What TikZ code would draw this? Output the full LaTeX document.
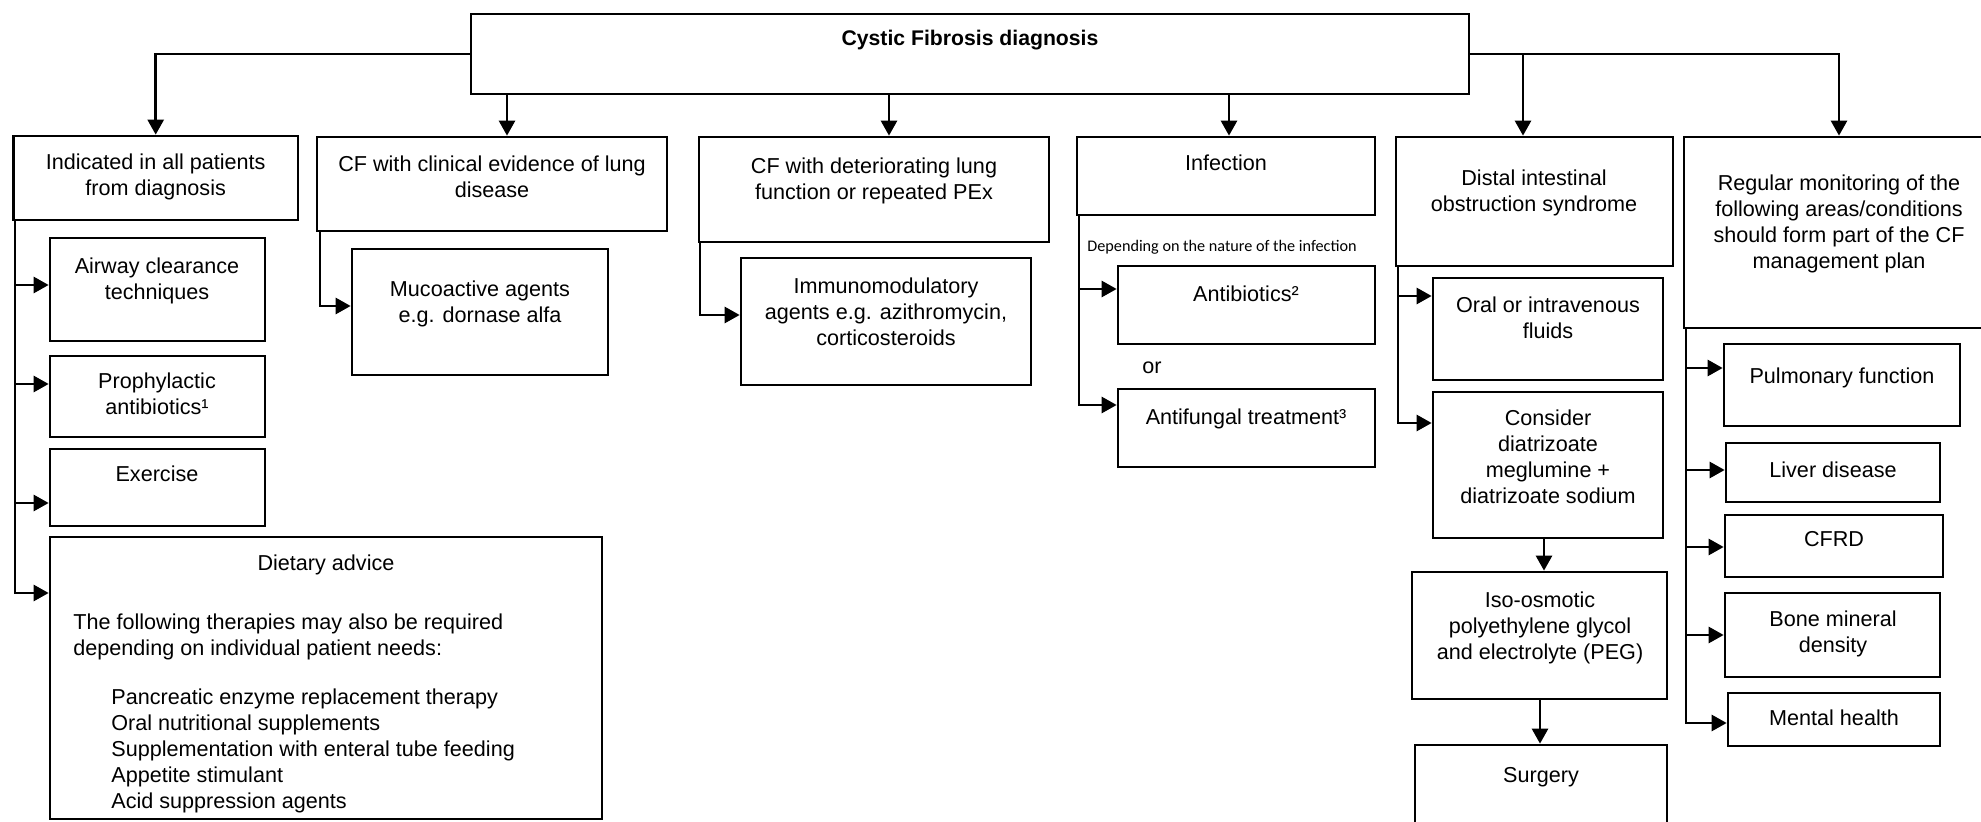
\documentclass[tikz,border=0pt]{standalone}
\usepackage{fontspec}
\setmainfont{Liberation Sans}
\newfontfamily\calfont{Carlito}
\usetikzlibrary{arrows.meta,fit}
\begin{document}
\begin{tikzpicture}[x=0.5pt,y=-0.5pt,
  box/.style={draw, line width=1.35pt, inner sep=0pt},
  lbl/.style={font=\fontsize{10.8}{13}\selectfont, align=center, inner sep=0pt, anchor=north},
  lbll/.style={font=\fontsize{10.8}{13}\selectfont, align=left, inner sep=0pt, anchor=north west},
  conn/.style={line width=1.35pt},
  arr/.style={line width=1.35pt, -{Triangle[length=7.5pt,width=8pt]}}]
\useasboundingbox[fill=white] (0,0) rectangle (1981,822);

% top
\node[box, fit={(471,14) (1469,94)}] (top) {};
\node[lbl, font=\fontsize{10.6}{13}\selectfont\bfseries] (toptxt) at (970,30) {Cystic Fibrosis diagnosis};

% first row
\node[box, fit={(13.4,136) (298,220)}] (b1) {};
\node[lbl] (b1t) at (155.7,153) {Indicated in all patients\\from diagnosis};
\node[box, fit={(317,137) (667,231)}] (b2) {};
\node[lbl] (b2t) at (492,155) {CF with clinical evidence of lung\\disease};
\node[box, fit={(699,137) (1049,242)}] (b3) {};
\node[lbl] (b3t) at (874,157) {CF with deteriorating lung\\function or repeated PEx};
\node[box, fit={(1077,137) (1375,215)}] (b4) {};
\node[lbl] (b4t) at (1226,154) {Infection};
\node[box, fit={(1396,137) (1673,266)}] (b5) {};
\node[lbl] (b5t) at (1534,169) {Distal intestinal\\obstruction syndrome};
\node[box, fit={(1684,137) (1994,328)}] (b6) {};
\node[lbl] (b6t) at (1839,174) {Regular monitoring of the\\following areas/conditions\\should form part of the CF\\management plan};

% connectors from top
\coordinate (a2) at (507,0);
\coordinate (a3) at (889,0);
\coordinate (a4) at (1229,0);
\coordinate (a5) at (1523,54);
\draw[arr] (top.west) -| (b1.north);
\draw[arr] (top.east) -| (b6.north);
\draw[arr] (a5) -- (a5 |- b5.north);
\draw[arr] (top.south -| a2) -- (b2.north -| a2);
\draw[arr] (top.south -| a3) -- (b3.north -| a3);
\draw[arr] (top.south -| a4) -- (b4.north -| a4);

% column 1
\node[box, fit={(50,238) (265,341)}] (air) {};
\node[lbl] (airt) at (157,257) {Airway clearance\\techniques};
\node[box, fit={(50,356) (265,437)}] (pro) {};
\node[lbl] (prot) at (157,372) {Prophylactic\\antibiotics¹};
\node[box, fit={(50,449) (265,526)}] (exe) {};
\node[lbl] (exet) at (157,465) {Exercise};
\node[box, fit={(50,537) (602,819)}] (diet) {};
\node[lbl] (diett) at (326,554) {Dietary advice};
\node[lbll] (dietp) at (73,613) {The following therapies may also be required\\depending on individual patient needs:};
\node[lbll] (dietl) at (111,688) {Pancreatic enzyme replacement therapy\\Oral nutritional supplements\\Supplementation with enteral tube feeding\\Appetite stimulant\\Acid suppression agents};
\coordinate (j11) at (15,285);
\coordinate (j12) at (15,384);
\coordinate (j13) at (15,503);
\coordinate (j14) at (15,593);
\draw[arr] (b1.south -| j14) -- (j14) -- (j14 -| diet.west);
\draw[arr] (j11) -- (j11 -| air.west);
\draw[arr] (j12) -- (j12 -| pro.west);
\draw[arr] (j13) -- (j13 -| exe.west);

% column 2
\node[box, fit={(352,249) (608,375)}] (muc) {};
\node[lbl] (muct) at (480,280) {Mucoactive agents\\e.g. dornase alfa};
\coordinate (j2) at (320,306);
\draw[arr] (b2.south -| j2) -- (j2) -- (j2 -| muc.west);

% column 3
\node[box, fit={(741,258) (1031,385)}] (imm) {};
\node[lbl] (immt) at (886,277) {Immunomodulatory\\agents e.g. azithromycin,\\corticosteroids};
\coordinate (j3) at (700,315);
\draw[arr] (b3.south -| j3) -- (j3) -- (j3 -| imm.west);

% column 4
\node[anchor=west, inner sep=0pt, font=\calfont\fontsize{8.1}{10}\selectfont] (dep) at (1087,247) {Depending on the nature of the infection};
\node[box, fit={(1118,266) (1375,344)}] (abx) {};
\node[lbl] (abxt) at (1246,285) {Antibiotics²};
\node[inner sep=0pt, font=\fontsize{10.8}{13}\selectfont] (or) at (1152,368) {or};
\node[box, fit={(1118,389) (1375,467)}] (afu) {};
\node[lbl] (afut) at (1246,408) {Antifungal treatment³};
\coordinate (j41) at (1079,289);
\coordinate (j42) at (1079,405);
\draw[arr] (b4.south -| j42) -- (j42) -- (j42 -| afu.west);
\draw[arr] (j41) -- (j41 -| abx.west);

% column 5
\node[box, fit={(1433,278) (1663,380)}] (ora) {};
\node[lbl] (orat) at (1548,296) {Oral or intravenous\\fluids};
\node[box, fit={(1433,392) (1663,538)}] (con) {};
\node[lbl] (cont) at (1548,409) {Consider\\diatrizoate\\meglumine +\\diatrizoate sodium};
\node[box, fit={(1412,572) (1667,699)}] (iso) {};
\node[lbl] (isot) at (1540,591) {Iso-osmotic\\polyethylene glycol\\and electrolyte (PEG)};
\node[box, fit={(1415,745) (1667,840)}] (sur) {};
\node[lbl] (surt) at (1541,767) {Surgery};
\coordinate (j51) at (1398,296);
\coordinate (j52) at (1398,423);
\draw[arr] (b5.south -| j52) -- (j52) -- (j52 -| con.west);
\draw[arr] (j51) -- (j51 -| ora.west);
\coordinate (a6) at (1544,0);
\coordinate (a7) at (1540,0);
\draw[arr] (con.south -| a6) -- (iso.north -| a6);
\draw[arr] (iso.south -| a7) -- (sur.north -| a7);

% column 6
\node[box, fit={(1724,344) (1960,426)}] (pul) {};
\node[lbl] (pult) at (1842,367) {Pulmonary function};
\node[box, fit={(1726,443) (1940,502)}] (liv) {};
\node[lbl] (livt) at (1833,461) {Liver disease};
\node[box, fit={(1725,515) (1943,577)}] (cfr) {};
\node[lbl] (cfrt) at (1834,531) {CFRD};
\node[box, fit={(1725,593) (1940,677)}] (bon) {};
\node[lbl] (bont) at (1833,610) {Bone mineral\\density};
\node[box, fit={(1728,693) (1940,746)}] (men) {};
\node[lbl] (ment) at (1834,709) {Mental health};
\coordinate (j61) at (1686,368);
\coordinate (j62) at (1686,470);
\coordinate (j63) at (1686,547);
\coordinate (j64) at (1686,635);
\coordinate (j65) at (1686,723);
\draw[arr] (b6.south -| j65) -- (j65) -- (j65 -| men.west);
\draw[arr] (j61) -- (j61 -| pul.west);
\draw[arr] (j62) -- (j62 -| liv.west);
\draw[arr] (j63) -- (j63 -| cfr.west);
\draw[arr] (j64) -- (j64 -| bon.west);
\end{tikzpicture}
\end{document}
